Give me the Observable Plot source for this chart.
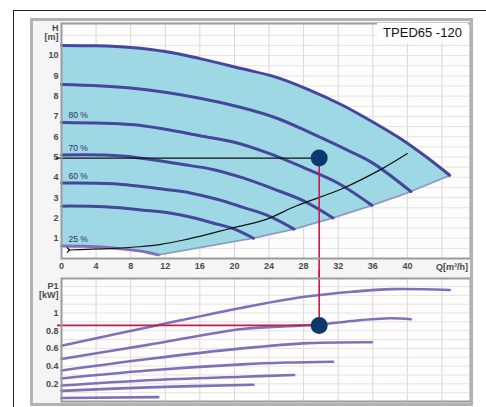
<!DOCTYPE html>
<html><head><meta charset="utf-8">
<script src="https://cdn.jsdelivr.net/npm/d3@7"></script>
<script src="https://cdn.jsdelivr.net/npm/@observablehq/plot@0.6"></script>
<style>
html,body{margin:0;padding:0;background:#fff;width:486px;height:407px;overflow:hidden;}
#wrap{position:relative;width:486px;height:407px;overflow:hidden;}
#outer{position:absolute;left:13px;top:10px;width:500px;height:420px;border:1px solid #222;box-sizing:border-box;}
#panelbg{position:absolute;left:30px;top:18px;width:443px;height:388px;background:#f5f5f5;}
#panel{position:absolute;left:30px;top:18px;width:443px;height:388px;border:3px solid #b2b2b2;box-sizing:border-box;pointer-events:none;}
#top,#bot{position:absolute;left:0;}
#top{top:0px;} #bot{top:270px;}
#title{position:absolute;left:377px;top:23px;width:91px;height:20px;background:#fff;font:13px Arial,"Liberation Sans",sans-serif;color:#111;line-height:20px;text-align:center;}
</style></head>
<body><div id="wrap"><div id="outer"></div><div id="panelbg"></div><div id="top"></div><div id="bot"></div><div id="panel"></div><div id="title"></div></div>
<script>
// ---- data ----
const model = "TPED65 -120";
const qTicks = [0,4,8,12,16,20,24,28,32,36,40];
const hTicks = [1,2,3,4,5,6,7,8,9,10];
const pTicks = [0.2,0.4,0.6,0.8,1];
const qUnit = "Q[m³/h]";
const hUnit = "H\n[m]";
const pUnit = "P1\n[kW]";
const speedNames = ["100 %","90 %","80 %","70 %","60 %","50 %","25 %"];
const labelled = ["80 %","70 %","60 %","25 %"];

// head curves H [m] vs Q [m3/h]
const q100 = [0,4,8,12,16,20.8,24.7,28.7,32.5,36.3,39.4,42.2,44.9];
const h100 = [10.5,10.48,10.4,10.2,9.85,9.36,8.95,8.3,7.55,6.65,5.85,5.0,4.1];
const q90 = [0,8,16,20.8,25,29,33,36,40.4];
const h90 = [8.57,8.4,7.9,7.44,6.9,6.15,5.35,4.7,3.3];
const q80 = [0,8,12,16,20,24,28,32,35.9];
const h80 = [6.7,6.6,6.37,6.05,5.73,5.18,4.48,3.71,2.62];
const q70 = [0,7,14,17.5,21,24.5,28,31.4];
const h70 = [5.1,5.05,4.63,4.39,3.97,3.43,2.84,2.0];
const q60 = [0,6,12,15,18,21,24,26.9];
const h60 = [3.72,3.68,3.4,3.22,2.92,2.52,2.09,1.45];
const q50 = [0,5,10,12.5,15,17.5,20,22.2];
const h50 = [2.58,2.55,2.36,2.24,2.03,1.75,1.45,1.0];
const q25 = [0,2.5,5,7.5,10,11.2];
const h25 = [0.62,0.6,0.55,0.45,0.3,0.18];

// system curve
const qSys = [0.8,3,6,9,11.5,14,17,19.5,23.5,27.2,32.5,37.1,40];
const hSys = [0.42,0.45,0.5,0.58,0.7,0.9,1.2,1.48,1.9,2.6,3.45,4.43,5.17];

// power curves P1 [kW] vs Q
const pq100 = [0,11,20.9,27.9,33.6,38.3,44.9];
const p100 = [0.63,0.86,1.06,1.18,1.24,1.27,1.26];
const pq90 = [0,10,20.9,26,29.8,33.6,38,40.4];
const p90 = [0.48,0.64,0.82,0.85,0.87,0.91,0.94,0.93];
const pq80 = [0,10,20.9,28.6,35.9];
const p80 = [0.35,0.48,0.6,0.66,0.67];
const pq70 = [0,10,20.9,26,31.4];
const p70 = [0.26,0.35,0.42,0.44,0.45];
const pq60 = [0,10,20.9,26.9];
const p60 = [0.18,0.24,0.28,0.3];
const pq50 = [0,10,22.2];
const p50 = [0.12,0.16,0.19];
const pq25 = [0,11.2];
const p25 = [0.04,0.05];

// operating point
const opQ = 29.8, opH = 4.95, opP = 0.86;

// axis extents
const qMax = 47.3, hMax = 11.58, pMax = 1.39;

// ---- tables ----
const topCurves = [[q100,h100],[q90,h90],[q80,h80],[q70,h70],[q60,h60],[q50,h50],[q25,h25]];
const botCurves = [[pq100,p100],[pq90,p90],[pq80,p80],[pq70,p70],[pq60,p60],[pq50,p50],[pq25,p25]];
const headRows = speedNames.flatMap((s,i)=>topCurves[i][0].map((q,j)=>({s,q,h:topCurves[i][1][j]})));
const powerRows = speedNames.flatMap((s,i)=>botCurves[i][0].map((q,j)=>({s,q,p:botCurves[i][1][j]})));
const ends = topCurves.map(([q,h])=>({q:q[q.length-1],h:h[h.length-1]})).reverse(); // 25% end .. 100% end
const poly = [
  ...q100.map((q,j)=>({q,h:h100[j]})),
  ...ends.slice(0,-1).reverse(),
  ...q25.map((q,j)=>({q,h:h25[j]})).slice(0,-1).reverse()
];
const sysRows = qSys.map((q,j)=>({q,h:hSys[j]}));
const labelRows = labelled.map(s=>{const i=speedNames.indexOf(s);return {s,q:0,h:topCurves[i][1][0]};});
const op = [{q:opQ,h:opH,p:opP}];

const font = "Arial, 'Liberation Sans', sans-serif";
const gridCol = "#e2d2d2";
const navy = "#46469a";
const lav = "#7f70b8";
const red = "#c41a4c";

const topPlot = Plot.plot({
  width: 486, height: 280,
  marginLeft: 61, marginRight: 16, marginTop: 23, marginBottom: 22,
  style: {background: "transparent", fontFamily: font, fontSize: "9px", fontWeight: "bold", color: "#4a4a4a"},
  x: {domain: [0, qMax], ticks: qTicks, tickSize: 0, tickPadding: 4, label: null, tickFormat: d=>String(d)},
  y: {domain: [0, hMax], ticks: hTicks, tickSize: 0, tickPadding: 3, label: null, tickFormat: d=>String(d)},
  marks: [
    Plot.frame({fill: "#fdfdfd", stroke: null}),
    Plot.ruleX(d3.range(4, 47, 4), {stroke: gridCol, strokeWidth: 1}),
    Plot.ruleY(d3.range(0.5, 11.5, 0.5), {stroke: "#ebe0e0", strokeWidth: 1}),
    Plot.line(poly, {x: "q", y: "h", fill: "#9fd8e5", stroke: null, curve: "linear"}),
    Plot.line(ends, {x: "q", y: "h", stroke: "#8e9bc2", strokeWidth: 1.8}),
    Plot.line(headRows.filter(d=>d.s!=="25 %"), {x: "q", y: "h", z: "s", stroke: navy, strokeWidth: 3, curve: "catmull-rom"}),
    Plot.line(headRows.filter(d=>d.s==="25 %"), {x: "q", y: "h", stroke: lav, strokeWidth: 3, curve: "catmull-rom"}),
    Plot.line(sysRows, {x: "q", y: "h", stroke: "#111", strokeWidth: 1.2, curve: "catmull-rom", markerStart: "arrow"}),
    Plot.text(labelRows, {x: "q", y: "h", text: "s", dx: 7, dy: -7, textAnchor: "start", fill: "#2f2f66", fontSize: 8.5, fontWeight: "normal"}),
    Plot.ruleY(op, {x2: "q", y: "h", stroke: "#111", strokeWidth: 1.2, insetLeft: -5}),
    Plot.ruleX(op, {x: "q", y1: 0, y2: "h", stroke: red, strokeWidth: 1.6, insetTop: 22}),
    Plot.dot(op, {x: "q", y: "h", r: 8.5, fill: "#0a3a6b", stroke: null}),
    Plot.text([qUnit], {x: 43.3, y: 0, text: d=>d, dy: 9, textAnchor: "start", fill: "#4a4a4a"}),
    Plot.text([hUnit], {frameAnchor: "top-left", text: d=>d, dx: -3, dy: 0, textAnchor: "end", lineAnchor: "top", lineHeight: 1.1, fill: "#4a4a4a"}),
    Plot.frame({stroke: "#9c9c9c", strokeWidth: 2})
  ]
});
document.getElementById("top").appendChild(topPlot);

const botPlot = Plot.plot({
  width: 486, height: 137,
  marginLeft: 61, marginRight: 16, marginTop: 8, marginBottom: 6,
  style: {background: "transparent", fontFamily: font, fontSize: "9px", fontWeight: "bold", color: "#4a4a4a"},
  x: {domain: [0, qMax], axis: null},
  y: {domain: [0, pMax], ticks: pTicks, tickSize: 0, tickPadding: 3, label: null, tickFormat: d=>String(d)},
  marks: [
    Plot.frame({fill: "#fdfdfd", stroke: null}),
    Plot.ruleX(d3.range(4, 47, 4), {stroke: gridCol, strokeWidth: 1}),
    Plot.ruleY(d3.range(0.1, 1.35, 0.1), {stroke: "#ebe0e0", strokeWidth: 1}),
    Plot.line(powerRows, {x: "q", y: "p", z: "s", stroke: lav, strokeWidth: 2.6, curve: "catmull-rom"}),
    Plot.ruleY(op, {x2: "q", y: "p", stroke: red, strokeWidth: 1.6, insetLeft: -4}),
    Plot.ruleX(op, {x: "q", y1: "p", y2: pMax, stroke: red, strokeWidth: 1.6, insetBottom: 8}),
    Plot.dot(op, {x: "q", y: "p", r: 8.5, fill: "#0a3a6b", stroke: null}),
    Plot.text([pUnit], {frameAnchor: "top-left", text: d=>d, dx: -3, dy: 3, textAnchor: "end", lineAnchor: "top", lineHeight: 1.1, fill: "#4a4a4a"}),
    Plot.frame({stroke: "#9c9c9c", strokeWidth: 2})
  ]
});
document.getElementById("bot").appendChild(botPlot);
document.getElementById("title").textContent = model;
</script>
</body></html>
